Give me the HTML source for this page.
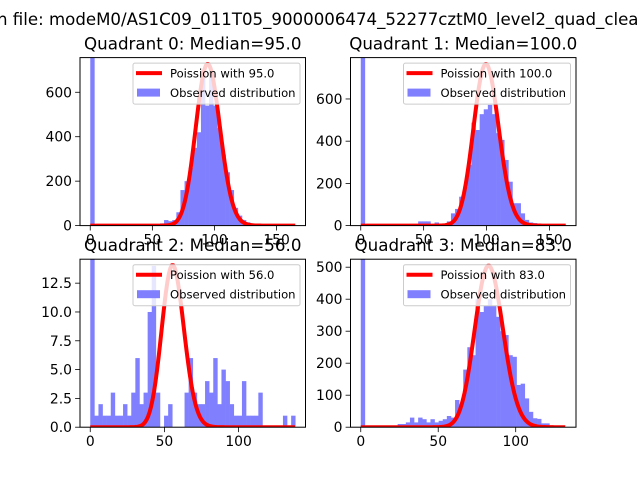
<!DOCTYPE html>
<html><head><meta charset="utf-8"><style>
html,body{margin:0;padding:0;background:#fff;}
svg{display:block;font-family:"DejaVu Sans","Liberation Sans",sans-serif;}
</style></head><body>
<svg id="fig" width="640" height="480" viewBox="0 0 640 480" xmlns="http://www.w3.org/2000/svg">
<rect width="640" height="480" fill="#fff"/>
<text x="-3" y="25" font-size="16.7" textLength="652" lengthAdjust="spacingAndGlyphs">n file: modeM0/AS1C09_011T05_9000006474_52277cztM0_level2_quad_clean</text>
</svg>
<script>
// Quadrant data (histogram bin counts, 50 bins each)
const q0Counts = [900,0,0,0,0,0,0,0,0,0,0,0,0,0,0,0,0,10,25,20,25,60,160,200,260,350,420,700,540,700,540,440,320,240,160,80,45,25,15,8,4,2,1,1,0,0,0,0,0,0];
const q1Counts = [900,0,0,0,0,0,0,0,0,0,0,0,8,8,20,20,20,8,15,8,10,20,58,79,137,185,288,488,453,528,551,572,528,438,406,311,208,106,106,58,27,15,12,5,2,2,2,2,0,0];
const q2Counts = [16,1,2,1,1,3,1,1,2,1,3,6,2,3,10,14,3,0,1,2,0,0,0,3,6,3,2,2,4,3,6,2,5,4,2,1,1,4,1,1,1,3,0,0,0,0,0,1,0,1];
const q3Counts = [600,0,0,0,0,0,0,0,0,10,10,15,30,15,30,25,15,25,15,20,25,35,30,85,70,180,250,225,400,360,380,400,380,345,300,288,225,220,132,136,90,48,28,26,12,12,2,0,0,0];
const dataMax = [165, 163, 138.2, 132.3];
const lambdas = [95.0, 100.0, 56.0, 83.0];
const poissonScale = [17780, 19200, 264, 11530];
const yMaxes = [756, 796, 14.58, 525];
const xTicks0 = [0,50,100,150];
const xTicks1 = [0,50,100,150];
const xTicks2 = [0,50,100];
const xTicks3 = [0,50,100];
const yTicks0 = [0,200,400,600];
const yTicks1 = [0,200,400,600];
const yTicks2 = [0,2.5,5.0,7.5,10.0,12.5];
const yTicks3 = [0,100,200,300,400,500];
const yTickLabels2 = ["0.0","2.5","5.0","7.5","10.0","12.5"];
const titles = ["Quadrant 0: Median=95.0","Quadrant 1: Median=100.0","Quadrant 2: Median=56.0","Quadrant 3: Median=83.0"];
const legendLine = ["Poission with 95.0","Poission with 100.0","Poission with 56.0","Poission with 83.0"];

const NS="http://www.w3.org/2000/svg";
const svg=document.getElementById('fig');
function mk(tag,attrs,parent){const e=document.createElementNS(NS,tag);for(const k in attrs)e.setAttribute(k,attrs[k]);(parent||svg).appendChild(e);return e;}

const boxes=[[80,57.6],[350.5,57.6],[80,259.2],[350.5,259.2]];
const W=225.5,H=168;
const allCounts=[q0Counts,q1Counts,q2Counts,q3Counts];
const allX=[xTicks0,xTicks1,xTicks2,xTicks3];
const allY=[yTicks0,yTicks1,yTicks2,yTicks3];

for(let q=0;q<4;q++){
  const [ax,ay]=boxes[q];
  const dmax=dataMax[q];
  const xmin=-0.05*dmax, xmax=dmax*1.05;
  const X=v=>ax+(v-xmin)/(xmax-xmin)*W;
  const Y=v=>ay+H-v/yMaxes[q]*H;
  const g=mk('g',{});
  
  
  const cp=mk('clipPath',{id:'clip'+q},g);
  mk('rect',{x:ax,y:ay,width:W,height:H},cp);
  const counts=allCounts[q];
  const bw=dmax/counts.length;
  const bars=mk('g',{'clip-path':'url(#clip'+q+')'},g);
  
  
  counts.forEach((c,i)=>{
    if(c<=0)return;
    const x1=X(i*bw),x2=X((i+1)*bw);
    const r=mk('rect',{x:x1,y:Y(c),width:x2-x1+0.3,height:Y(0)-Y(c),fill:'#8080ff'},bars);
    
    
  });
  const lam=lambdas[q];let lg=0;const pts=[];
  for(let k=0;k<=Math.floor(dmax);k++){
    if(k>0)lg+=Math.log(k);
    const v=poissonScale[q]*Math.exp(k*Math.log(lam)-lam-lg);
    pts.push(X(k).toFixed(2)+','+Y(v).toFixed(2));
  }
  const pl=mk('polyline',{points:pts.join(' '),fill:'none',stroke:'#ff0000','stroke-width':4,'stroke-linejoin':'round','clip-path':'url(#clip'+q+')'},g);
  
  
  const lx=ax+W-172.5, ly=ay+5.5;
  const lgd=mk('g',{},g);
  
  
  mk('rect',{x:lx,y:ly,width:167,height:41,rx:2,fill:'#fff','fill-opacity':0.8,stroke:'#cccccc','stroke-width':1},lgd);
  mk('line',{x1:lx+3,x2:lx+29,y1:ly+10,y2:ly+10,stroke:'#ff0000','stroke-width':4},lgd);
  const t1=mk('text',{x:lx+37,y:ly+14.5,'font-size':11.6,fill:'#000'},lgd);t1.textContent=legendLine[q];
  
  
  mk('rect',{x:lx+4,y:ly+25.5,width:23,height:8,fill:'#8080ff'},lgd);
  const t2=mk('text',{x:lx+37,y:ly+34,'font-size':11.6,fill:'#000'},lgd);t2.textContent='Observed distribution';
  
  
  mk('rect',{x:ax,y:ay,width:W,height:H,fill:'none',stroke:'#000','stroke-width':1},g);
  allX[q].forEach(v=>{
    const x=X(v);
    mk('line',{x1:x,x2:x,y1:ay+H,y2:ay+H+4.9,stroke:'#000','stroke-width':0.8},g);
    const t=mk('text',{x:x,y:ay+H+19,'font-size':13.9,'text-anchor':'middle'},g);t.textContent=String(v);
    
    
  });
  allY[q].forEach((v,i)=>{
    const y=Y(v);
    mk('line',{x1:ax-4.9,x2:ax,y1:y,y2:y,stroke:'#000','stroke-width':0.8},g);
    const t=mk('text',{x:ax-8,y:y+5,'font-size':13.9,'text-anchor':'end'},g);
    t.textContent=q===2?yTickLabels2[i]:String(v);
    
    
  });
  const tt=mk('text',{x:ax+W/2,y:ay-8,'font-size':16.7,'text-anchor':'middle'},g);tt.textContent=titles[q];
  
  
}
</script>
</body></html>
